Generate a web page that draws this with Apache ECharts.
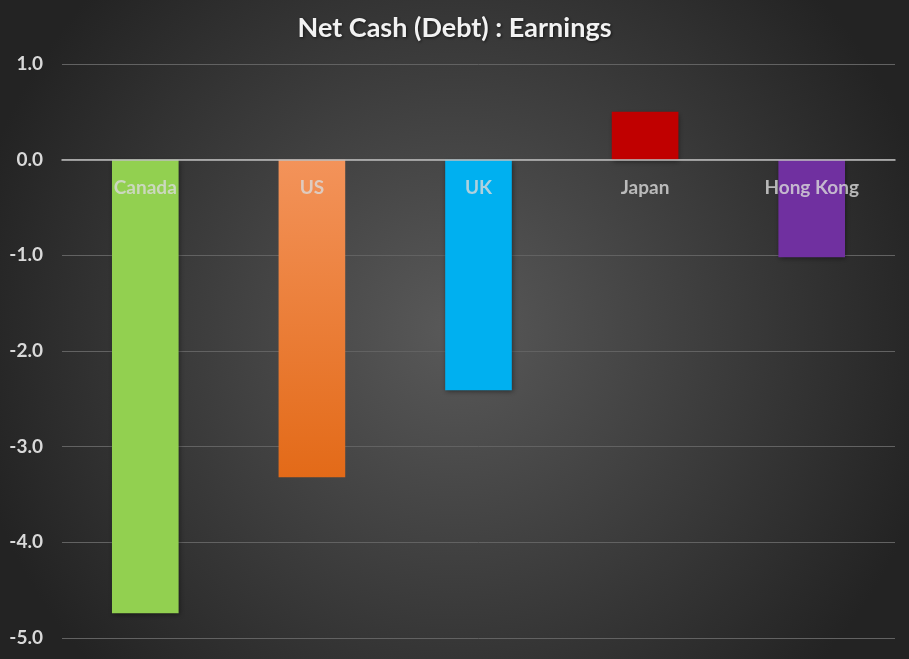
<!DOCTYPE html>
<html><head><meta charset="utf-8">
<script src="https://cdn.jsdelivr.net/npm/echarts@6/dist/echarts.min.js"></script>
<style>html,body{margin:0;padding:0;}#c{width:909px;height:659px;}</style>
</head><body><div id="c"></div>
<script>
var categories = ['Canada', 'US', 'UK', 'Japan', 'Hong Kong'];
var values = [-4.74, -3.32, -2.41, 0.50, -1.02];
var yTicks = [-5, -4, -3, -2, -1, 0, 1];
var barColors = [
  '#92d050',
  {type:'linear',x:0,y:0,x2:0,y2:1,colorStops:[{offset:0,color:'#f3935a'},{offset:1,color:'#e36a18'}]},
  '#00b0f0',
  '#c00000',
  '#7030a0'
];
var chart = echarts.init(document.getElementById('c'));
var font = 'Lato, "Open Sans", sans-serif';
chart.setOption({
  backgroundColor: {type:'radial',x:0.5,y:0.5,r:0.75,colorStops:[{offset:0,color:'#595959'},{offset:1,color:'#232323'}]},
  title: {text:'Net Cash (Debt) : Earnings', left:'center', top:10,
    textStyle:{color:'#f2f2f2', fontSize:27, fontWeight:'bold', fontFamily:font,
      textShadowColor:'rgba(0,0,0,0.6)', textShadowBlur:3, textShadowOffsetX:1, textShadowOffsetY:1}},
  grid: {left:62, right:14, top:64, bottom:21, outerBoundsMode:'none', containLabel:false},
  xAxis: {type:'category', data:categories, z:10,
    axisLine:{onZero:true, lineStyle:{color:'#bfbfbf', width:1.5}},
    axisTick:{show:false},
    axisLabel:{show:false}},
  yAxis: {type:'value', min:yTicks[0], max:yTicks[yTicks.length-1], interval:1,
    axisLine:{show:false}, axisTick:{show:false},
    splitLine:{lineStyle:{color:'#626262', width:1}},
    axisLabel:{color:'#d9d9d9', fontSize:19, fontWeight:'bold', fontFamily:font, margin:19,
      formatter:function(v){return v.toFixed(1);}}},
  series: [{type:'bar', barWidth:'40%',
    data: values.map(function(v,i){return {value:v, itemStyle:{color:barColors[i]}};}),
    itemStyle:{shadowColor:'rgba(0,0,0,0.45)', shadowBlur:5, shadowOffsetX:1, shadowOffsetY:2}
  },{type:'scatter', symbolSize:0, z:20, silent:true,
    data: categories.map(function(c){return [c, 0];}),
    label:{show:true, position:'bottom', distance:19, formatter:function(p){return p.value[0];},
      color:'#d9d9d9', fontSize:19, fontWeight:'bold', fontFamily:font}
  }]
});
</script></body></html>
